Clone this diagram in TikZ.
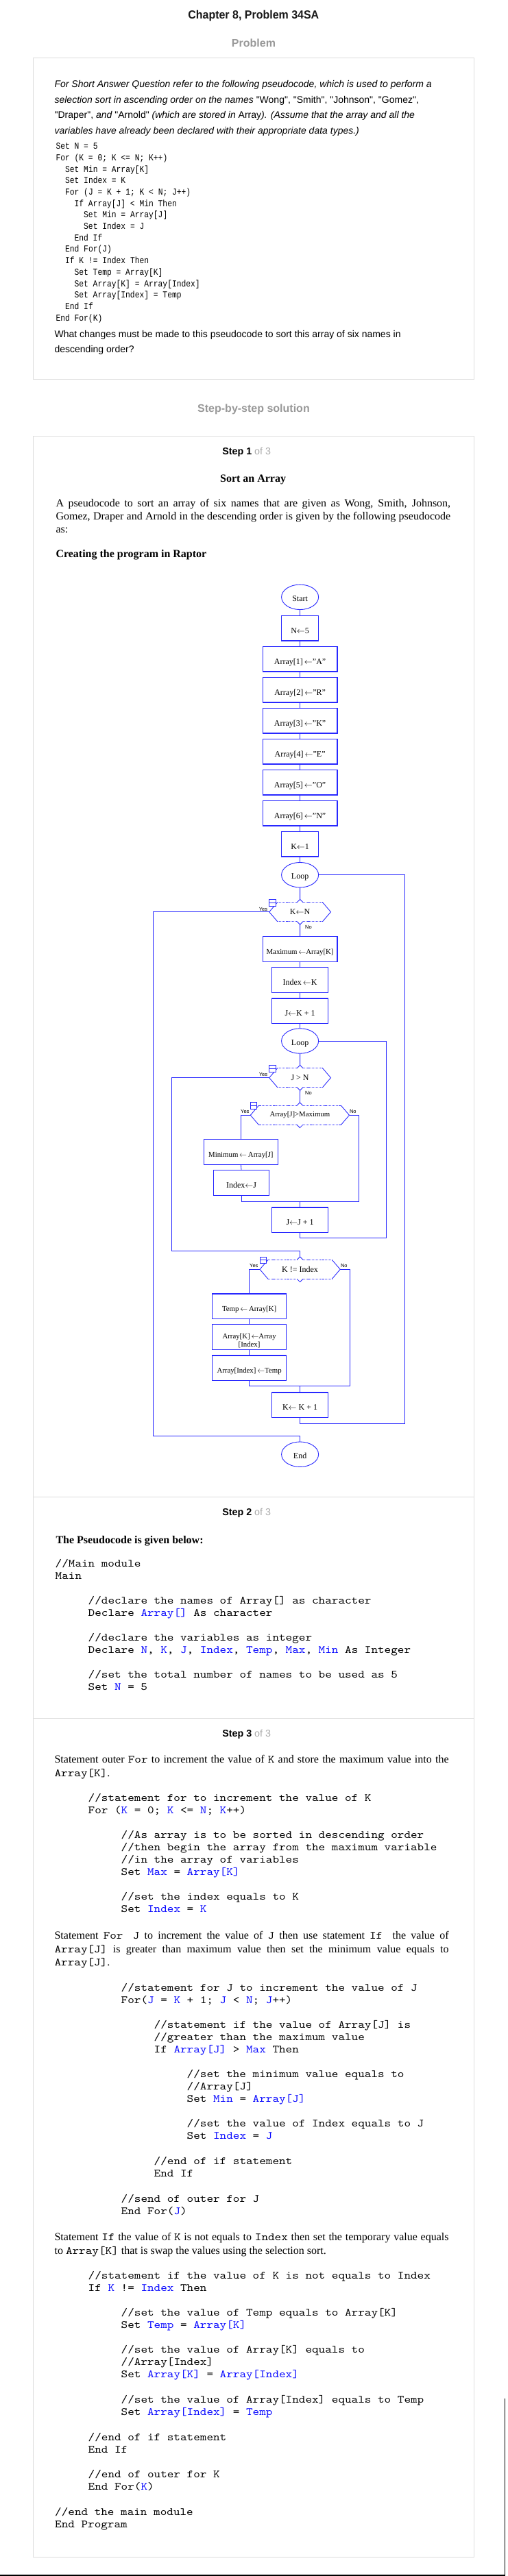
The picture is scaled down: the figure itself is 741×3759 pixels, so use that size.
\documentclass[tikz,border=0pt]{standalone}
\usepackage{fontspec}
\usetikzlibrary{shapes.geometric,calc}
\setmainfont{Liberation Serif}
\newfontfamily\sansf{Liberation Sans}
\newfontfamily\sansn{Liberation Sans}[FakeStretch=0.94]
\newfontfamily\ttc{lmmono10-regular.otf}[FakeStretch=1.143]
\newfontfamily\ttn{Liberation Mono}[FakeStretch=0.85]
\definecolor{fcblue}{RGB}{40,40,255}
\definecolor{codeblue}{RGB}{10,10,255}
\definecolor{frameg}{RGB}{221,221,221}
\definecolor{headg}{RGB}{153,153,153}
\definecolor{ofg}{RGB}{170,170,170}
\newcounter{tn}
\newcommand\tn[4]{\stepcounter{tn}\node[txt,#1] (t\number\value{tn}) at (#2,#3) {#4};}
\newcommand\cfont{\ttc\fontsize{16}{18}\selectfont}
\newcommand\pfont{\ttn\fontsize{13.3}{16}\selectfont}
\newcommand\psf{\sansf\fontsize{14}{16}\selectfont}
\newcommand\cd[3]{\tn{font=\cfont}{#1}{#2+5}{#3}}
\newcommand\pcd[3]{\tn{font=\pfont}{#1}{#2+4.3}{#3}}
\newcommand\bl[1]{\textcolor{codeblue}{#1}}
\newcommand\fcf{\fontsize{12}{13.5}\selectfont}
\newcommand\fcs{\fontsize{10.8}{12}\selectfont}
\newcommand\arr{\ensuremath{\leftarrow}}
\newcommand\stepttl[2]{\tn{anchor=base,font=\sansf\fontsize{14.3}{16}\selectfont}{359.7}{#2}{\textbf{Step #1}\ \textcolor{ofg}{of 3}}}
\newcommand\lab[3]{\tn{anchor=center,font=\sansf\fontsize{7.5}{8}\selectfont}{#1}{#2}{#3}}
% name, xl, xr, yc, font, text
\newcommand\hexdec[6]{%
  \pgfmathsetmacro\hxc{(#2+#3)/2}%
  \pgfmathsetmacro\hw{#3-#2}%
  \node[inner sep=0pt, minimum width=\hw pt, minimum height=28pt, font=#5] (#1) at (\hxc,#4) {#6};%
  \coordinate (#1-top) at (\hxc,#4-18.4);%
  \coordinate (#1-bot) at (\hxc,#4+18.4);%
  \draw[fl] (#2+12,#4-14) -- (#2,#4) -- (#2+12,#4+14);%
  \draw[fl] (#3-12,#4-14) -- (#3,#4) -- (#3-12,#4+14);%
  \draw[fl,fdot] (#2+12,#4-14) -- (\hxc-4.4,#4-14);%
  \draw[fl] (\hxc-4.4,#4-14) -- (\hxc,#4-18.4) -- (\hxc+4.4,#4-14);%
  \draw[fl,fdot] (\hxc+4.4,#4-14) -- (#3-12,#4-14);%
  \draw[fl,fdot] (#2+12,#4+14) -- (\hxc-4.4,#4+14);%
  \draw[fl] (\hxc-4.4,#4+14) -- (\hxc,#4+18.4) -- (\hxc+4.4,#4+14);%
  \draw[fl,fdot] (\hxc+4.4,#4+14) -- (#3-12,#4+14);%
  \draw[fl,fill=white] (#2,#4-18.4) rectangle (#2+9.5,#4-8.6);%
  \draw[fl] (#2,#4-13.5) -- (#2+9.5,#4-13.5);%
}
\begin{document}
\begin{tikzpicture}[x=1pt,y=-1pt,
  txt/.style={anchor=base west, inner sep=0pt},
  fl/.style={draw=fcblue, line width=0.85pt},
  fdot/.style={dash pattern=on 1.2pt off 0.9pt},
  fbox/.style={draw=fcblue, line width=1.2pt, rectangle, minimum height=36.5pt, inner sep=1pt, font=\fcf, text=black, align=center, text height=15pt, text depth=0pt},
  fell/.style={draw=fcblue, line width=0.9pt, ellipse, minimum width=54pt, minimum height=36.5pt, inner sep=0pt, font=\fcf, text height=12pt, text depth=0pt},
  wbox/.style={fbox, minimum width=108.7pt},
  mbox/.style={fbox, minimum width=81.7pt},
  nbox/.style={fbox, minimum width=54.5pt}]
\useasboundingbox (0,0) rectangle (741,3759);
\fill[white] (0,0) rectangle (741,3759);
\draw[black, line width=1.5pt] (0,3758) -- (736.3,3758) -- (736.3,3500);

% ---------------- header and problem ----------------
\tn{anchor=base,font=\sansn\bfseries\fontsize{17}{20}\selectfont,text=black!90}{369.8}{27.7}{Chapter 8, Problem 34SA}
\tn{anchor=base,font=\sansf\bfseries\fontsize{16}{18}\selectfont,text=headg}{370}{68.5}{Problem}
\draw[frameg, line width=1pt] (48.7,84.7) rectangle (691.4,553.3);

\tn{font=\psf\itshape}{79.4}{127.8}{For Short Answer Question refer to the following pseudocode, which is used to perform a}
\tn{font=\psf\itshape}{79.4}{150.3}{selection sort in ascending order on the names {\upshape "Wong", "Smith", "Johnson", "Gomez",}}
\tn{font=\psf\itshape}{79.4}{172.8}{{\upshape "Draper",} and {\upshape "Arnold"} (which are stored in {\upshape Array}). (Assume that the array and all the}
\tn{font=\psf\itshape}{79.4}{195.0}{variables have already been declared with their appropriate data types.)}

\pcd{81.3}{213.3}{Set N = 5}
\pcd{81.3}{230.0}{For (K = 0; K <= N; K++)}
\pcd{94.9}{246.7}{Set Min = Array[K]}
\pcd{94.9}{263.4}{Set Index = K}
\pcd{94.9}{280.1}{For (J = K + 1; K < N; J++)}
\pcd{108.4}{296.8}{If Array[J] < Min Then}
\pcd{122.0}{313.5}{Set Min = Array[J]}
\pcd{122.0}{330.2}{Set Index = J}
\pcd{108.4}{346.9}{End If}
\pcd{94.9}{363.6}{End For(J)}
\pcd{94.9}{380.3}{If K != Index Then}
\pcd{108.4}{397.0}{Set Temp = Array[K]}
\pcd{108.4}{413.7}{Set Array[K] = Array[Index]}
\pcd{108.4}{430.4}{Set Array[Index] = Temp}
\pcd{94.9}{447.1}{End If}
\pcd{81.3}{463.8}{End For(K)}

\tn{font=\psf}{79.4}{492.8}{What changes must be made to this pseudocode to sort this array of six names in}
\tn{font=\psf}{79.4}{514.8}{descending order?}

\tn{anchor=base,font=\sansf\bfseries\fontsize{16}{18}\selectfont,text=headg}{370}{601}{Step-by-step solution}

% ---------------- solution frame ----------------
\draw[frameg, line width=1pt] (48.7,636.7) rectangle (691.4,3731);
\draw[frameg, line width=1pt] (48.7,2184.3) -- (691.4,2184.3);
\draw[frameg, line width=1pt] (48.7,2507.3) -- (691.4,2507.3);

\stepttl{1}{663.3}
\tn{anchor=base,font=\bfseries\fontsize{16}{18}\selectfont}{369.1}{703.6}{Sort an Array}
\tn{font=\fontsize{16}{18.7}\selectfont}{81.3}{739.6}{\parbox[t]{575.7pt}{A pseudocode to sort an array of six names that are given as Wong, Smith, Johnson,\linebreak Gomez, Draper and Arnold in the descending order is given by the following pseudocode\linebreak as:}}
\tn{font=\bfseries\fontsize{16}{18}\selectfont}{81.3}{813.6}{Creating the program in Raptor}

% ---------------- flowchart ----------------
\node[fell] (start) at (437.6,871.3) {Start};
\node[nbox] (n5) at (437.6,916.7) {N\arr5};
\node[wbox] (a1) at (437.6,961.7) {Array[1]\,\arr"A"};
\node[wbox] (a2) at (437.6,1006.7) {Array[2]\,\arr"R"};
\node[wbox] (a3) at (437.6,1051.7) {Array[3]\,\arr"K"};
\node[wbox] (a4) at (437.6,1096.7) {Array[4]\,\arr"E"};
\node[wbox] (a5) at (437.6,1141.7) {Array[5]\,\arr"O"};
\node[wbox] (a6) at (437.6,1186.7) {Array[6]\,\arr"N"};
\node[nbox] (k1) at (437.6,1231.8) {K\arr1};
\node[fell] (loop1) at (437.6,1276.7) {Loop};
\hexdec{dec1}{392.7}{482.5}{1330.7}{\fcf}{K\arr N}
\node[wbox, font=\fcs] (maxb) at (437.6,1385) {Maximum\,\arr Array[K]};
\node[mbox] (idxk) at (437.6,1430) {Index\,\arr K};
\node[mbox] (jk1) at (437.6,1475.2) {J\arr K + 1};
\node[fell] (loop2) at (437.6,1519) {Loop};
\hexdec{dec2}{392.7}{482.5}{1572.7}{\fcf}{J > N}
\hexdec{dec3}{365.3}{509.5}{1627.3}{\fcs}{Array[J]>Maximum}
\node[fbox, minimum width=108.2pt, font=\fcs] (minb) at (351.4,1681) {Minimum\,\arr\,Array[J]};
\node[fbox, minimum width=81.3pt] (idxj) at (352,1726) {Index\arr J};
\node[mbox] (jj1) at (437.6,1780.2) {J\arr J + 1};
\hexdec{dec4}{379}{496.2}{1852.3}{\fcf}{K != Index}
\node[fbox, minimum width=108.3pt, font=\fcs] (tmp) at (363.6,1906.2) {Temp\,\arr\,Array[K]};
\node[fbox, minimum width=108.3pt, font=\fcs, inner sep=0pt, text height=32.5pt, text depth=4.5pt] (swap2) at (363.6,1951.3) {Array[K]\,\arr Array\\{[Index]}};
\node[fbox, minimum width=108.3pt, font=\fcs] (swap3) at (363.6,1996.3) {Array[Index]\,\arr Temp};
\node[mbox] (kk1) at (437.6,2050.3) {K\arr\ K + 1};
\node[fell] (end) at (437.6,2122.2) {End};

\lab{384}{1326.7}{Yes}  \lab{450}{1353.3}{No}
\lab{384}{1568.3}{Yes}  \lab{450}{1595}{No}
\lab{357.3}{1621.7}{Yes} \lab{514.8}{1621.7}{No}
\lab{370.3}{1847}{Yes}  \lab{501.8}{1847}{No}

\foreach \a/\b in {start/n5, n5/a1, a1/a2, a2/a3, a3/a4, a4/a5, a5/a6, a6/k1, k1/loop1, maxb/idxk, idxk/jk1, jk1/loop2, minb/idxj, tmp/swap2, swap2/swap3}
  \draw[fl] (\a.south) -- (\b.north);
\draw[fl] (loop1.south) -- (dec1-top);
\draw[fl] (dec1-bot) -- (maxb.north);
\draw[fl] (loop2.south) -- (dec2-top);
\draw[fl] (dec2-bot) -- (dec3-top);
\draw[fl] (dec3.west) -| (minb.north);
\coordinate (nj3) at (523.6,1753);
\coordinate (jn3) at (437.6,1753);
\draw[fl] (dec3.east) -| (nj3) -- (idxj.south |- nj3) -- (idxj.south);
\draw[fl] (jn3) -- (jj1.north);
\coordinate (r2) at (563.3,1806.7);
\draw[fl] (jj1.south) |- (r2) |- (loop2.east);
\coordinate (y2) at (250.5,1825);
\draw[fl] (dec2.west) -| (y2) -| (dec4-top);
\draw[fl] (dec4.west) -| (tmp.north);
\coordinate (nj4) at (510.4,2022.7);
\coordinate (jn4) at (437.6,2022.7);
\draw[fl] (dec4.east) -| (nj4) -- (swap3.south |- nj4) -- (swap3.south);
\draw[fl] (jn4) -- (kk1.north);
\coordinate (r1) at (590.7,2077);
\draw[fl] (kk1.south) |- (r1) |- (loop1.east);
\coordinate (y1) at (223,2095);
\draw[fl] (dec1.west) -| (y1) -| (end.north);

% ---------------- step 2 ----------------
\stepttl{2}{2211}
\tn{font=\bfseries\fontsize{16}{18}\selectfont}{81.3}{2252}{The Pseudocode is given below:}
\cd{80.5}{2281.7}{//Main module}
\cd{80.5}{2299.7}{Main}
\cd{128.5}{2335.7}{//declare the names of Array[] as character}
\cd{128.5}{2353.7}{Declare \bl{Array[]} As character}
\cd{128.5}{2389.7}{//declare the variables as integer}
\cd{128.5}{2407.7}{Declare \bl{N}, \bl{K}, \bl{J}, \bl{Index}, \bl{Temp}, \bl{Max}, \bl{Min} As Integer}
\cd{128.5}{2443.7}{//set the total number of names to be used as 5}
\cd{128.5}{2461.7}{Set \bl{N} = 5}

% ---------------- step 3 ----------------
\stepttl{3}{2534.3}
\tn{font=\fontsize{16}{19.5}\selectfont}{79.4}{2572.6}{\parbox[t]{575pt}{Statement outer {\ttc For} to increment the value of {\ttc K} and store the maximum value into the\linebreak {\ttc Array[K]}.}}
\cd{128.5}{2623.3}{//statement for to increment the value of K}
\cd{128.5}{2641.3}{For (\bl{K} = 0; \bl{K} <= \bl{N}; \bl{K}++)}
\cd{176.5}{2677.3}{//As array is to be sorted in descending order}
\cd{176.5}{2695.3}{//then begin the array from the maximum variable}
\cd{176.5}{2713.3}{//in the array of variables}
\cd{176.5}{2731.3}{Set \bl{Max} = \bl{Array[K]}}
\cd{176.5}{2767.3}{//set the index equals to K}
\cd{176.5}{2785.3}{Set \bl{Index} = \bl{K}}
\tn{font=\fontsize{16}{19.5}\selectfont}{79.4}{2829.6}{\parbox[t]{575pt}{Statement {\ttc For}\ \ {\ttc J} to increment the value of {\ttc J} then use statement {\ttc If}\ \ the value of\linebreak {\ttc Array[J]} is greater than maximum value then set the minimum value equals to\linebreak {\ttc Array[J]}.}}
\cd{176.5}{2900.7}{//statement for J to increment the value of J}
\cd{176.5}{2918.7}{For(\bl{J} = \bl{K} + 1; \bl{J} < \bl{N}; \bl{J}++)}
\cd{224.5}{2954.7}{//statement if the value of Array[J] is}
\cd{224.5}{2972.7}{//greater than the maximum value}
\cd{224.5}{2990.7}{If \bl{Array[J]} > \bl{Max} Then}
\cd{272.5}{3026.7}{//set the minimum value equals to}
\cd{272.5}{3044.7}{//Array[J]}
\cd{272.5}{3062.7}{Set \bl{Min} = \bl{Array[J]}}
\cd{272.5}{3098.7}{//set the value of Index equals to J}
\cd{272.5}{3116.7}{Set \bl{Index} = \bl{J}}
\cd{224.5}{3153.7}{//end of if statement}
\cd{224.5}{3171.7}{End If}
\cd{176.5}{3208.3}{//send of outer for J}
\cd{176.5}{3226.3}{End For(\bl{J})}
\tn{font=\fontsize{16}{20}\selectfont}{79.4}{3269.6}{\parbox[t]{575pt}{Statement {\ttc If} the value of {\ttc K} is not equals to {\ttc Index} then set the temporary value equals\linebreak to {\ttc Array[K]} that is swap the values using the selection sort.}}
\cd{128.5}{3320.7}{//statement if the value of K is not equals to Index}
\cd{128.5}{3338.7}{If \bl{K} != \bl{Index} Then}
\cd{176.5}{3374.7}{//set the value of Temp equals to Array[K]}
\cd{176.5}{3392.7}{Set \bl{Temp} = \bl{Array[K]}}
\cd{176.5}{3428.7}{//set the value of Array[K] equals to}
\cd{176.5}{3446.7}{//Array[Index]}
\cd{176.5}{3464.7}{Set \bl{Array[K]} = \bl{Array[Index]}}
\cd{176.5}{3501.7}{//set the value of Array[Index] equals to Temp}
\cd{176.5}{3519.7}{Set \bl{Array[Index]} = \bl{Temp}}
\cd{128.5}{3556.7}{//end of if statement}
\cd{128.5}{3574.7}{End If}
\cd{128.5}{3610.7}{//end of outer for K}
\cd{128.5}{3628.7}{End For(\bl{K})}
\cd{80}{3665.7}{//end the main module}
\cd{80}{3683.7}{End Program}
\end{tikzpicture}
\end{document}
